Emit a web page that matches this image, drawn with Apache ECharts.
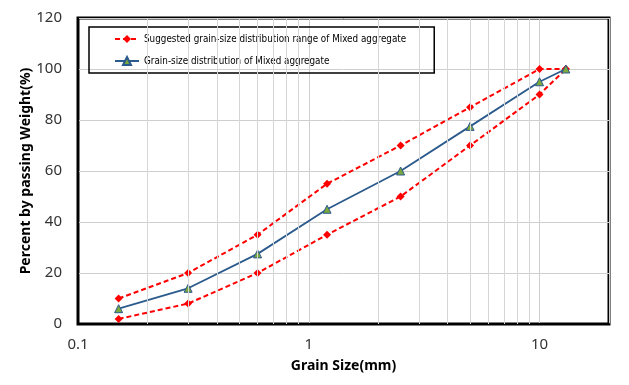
<!DOCTYPE html>
<html>
<head>
<meta charset="utf-8">
<script src="https://cdn.jsdelivr.net/npm/echarts@6/dist/echarts.min.js"></script>
<style>html,body{margin:0;padding:0;background:#fff;}#c{width:629px;height:385px;}</style>
</head>
<body>
<div id="c"></div>
<script>
const sizes = [0.15, 0.3, 0.6, 1.2, 2.5, 5, 10, 13];
const upperLimit = [10, 20, 35, 55, 70, 85, 100, 100];
const lowerLimit = [2, 8, 20, 35, 50, 70, 90, 100];
const mixed = [6, 14, 27.5, 45, 60, 77.5, 95, 100];
const xTickLabels = [0.1, 1, 10];
const minorGrid = [0.2,0.3,0.4,0.5,0.6,0.7,0.8,0.9,2,3,4,5,6,7,8,9];
const rangeName = 'Suggested grain-size distribution range of Mixed aggregate';
const mixName = 'Grain-size distribution of Mixed aggregate';

const pair = arr => sizes.map((s, i) => [s, arr[i]]);

const redSeries = (data) => ({
  name: rangeName, type: 'line', data: pair(data), z: 3,
  symbol: 'diamond', symbolSize: 8,
  lineStyle: { color: '#ff0000', width: 2, type: [5, 3] },
  itemStyle: { color: '#ff0000' }
});

const chart = echarts.init(document.getElementById('c'));
chart.setOption({
  animation: false,
  backgroundColor: '#fff',
  grid: { left: 78, right: 20, top: 18, bottom: 61, show: true, borderColor: '#000', borderWidth: 3 },
  legend: {
    left: 89, top: 27, orient: 'vertical',
    data: [rangeName, mixName],
    borderColor: '#000', borderWidth: 1.5, borderRadius: 0,
    padding: [7, 28, 7, 25], itemGap: 12, itemWidth: 24, itemHeight: 10,
    textStyle: { fontFamily: '"DejaVu Sans Condensed", "Liberation Sans", sans-serif', fontSize: 9.8, color: '#000' }
  },
  xAxis: {
    type: 'log', logBase: 10, min: 0.1, max: 20,
    name: 'Grain Size(mm)', nameLocation: 'middle', nameGap: 35,
    nameTextStyle: { fontFamily: 'Noto Sans', fontWeight: 'bold', fontSize: 14, color: '#000' },
    axisLine: { show: true, lineStyle: { color: '#000', width: 2 } },
    axisTick: { show: false },
    axisLabel: {
      margin: 13, fontFamily: 'Noto Sans', fontSize: 15, color: '#333',
      formatter: v => { const r = +(+v).toPrecision(6); return xTickLabels.includes(r) ? String(r) : ''; }
    },
    splitLine: { show: true, lineStyle: { color: '#cfcfcf', width: 1 } }
  },
  yAxis: {
    type: 'value', min: 0, max: 120, interval: 20,
    name: 'Percent by passing Weight(%)', nameLocation: 'middle', nameGap: 45, nameMoveOverlap: false,
    nameTextStyle: { fontFamily: 'Noto Sans', fontWeight: 'bold', fontSize: 14, color: '#000' },
    axisLine: { show: true, lineStyle: { color: '#000', width: 2 } },
    axisTick: { show: false },
    axisLabel: { margin: 16, fontFamily: 'Noto Sans', fontSize: 15, color: '#333' },
    splitLine: { show: true, lineStyle: { color: '#cfcfcf', width: 1 } }
  },
  series: [
    {
      type: 'line', data: [], z: 1, silent: true,
      markLine: {
        silent: true, symbol: 'none', label: { show: false },
        lineStyle: { color: '#d6d6d6', width: 1, type: 'solid' },
        data: minorGrid.map(v => ({ xAxis: v }))
      }
    },
    redSeries(upperLimit),
    redSeries(lowerLimit),
    {
      name: mixName, type: 'line', data: pair(mixed), z: 4,
      symbol: 'triangle', symbolSize: 8,
      lineStyle: { color: '#2b5a8c', width: 1.8 },
      itemStyle: { color: '#7aa83c', borderColor: '#2b5a8c', borderWidth: 1 }
    }
  ]
});
</script>
</body>
</html>
